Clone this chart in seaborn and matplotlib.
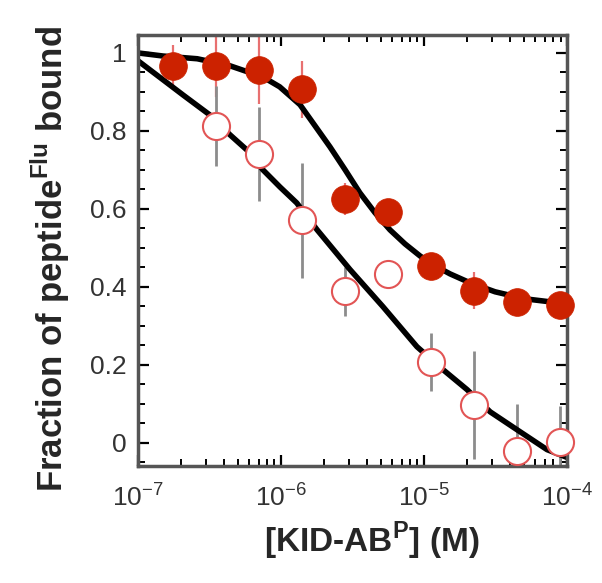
import numpy as np
import pandas as pd
import seaborn as sns
import matplotlib
matplotlib.use('Agg')
from matplotlib import pyplot as plt
from matplotlib import ticker

# Concentration of KID-AB^P (M), two-fold dilution series
conc = [1.75e-7, 3.5e-7, 7e-7, 1.4e-6, 2.8e-6, 5.6e-6, 1.12e-5, 2.24e-5, 4.48e-5, 8.96e-5]

# Filled circles
filled_frac = [0.967, 0.967, 0.955, 0.907, 0.625, 0.592, 0.452, 0.390, 0.360, 0.354]
filled_err = [0.054, 0.08, 0.087, 0.073, 0.04, 0.025, 0.02, 0.047, 0.02, 0.02]

# Open circles (no point at the lowest concentration)
open_conc = [3.5e-7, 7e-7, 1.4e-6, 2.8e-6, 5.6e-6, 1.12e-5, 2.24e-5, 4.48e-5, 8.96e-5]
open_frac = [0.813, 0.741, 0.570, 0.388, 0.433, 0.207, 0.097, -0.022, 0.001]
open_err = [0.103, 0.12, 0.147, 0.062, 0.02, 0.075, 0.138, 0.12, 0.092]

# Fitted curves
fit_filled_x = [1e-7, 1.5e-7, 2.6e-7, 4.4e-7, 7.5e-7, 9.8e-7, 1.36e-6, 1.73e-6,
                2.2e-6, 2.81e-6, 3.56e-6, 4.54e-6, 5.78e-6, 7.36e-6, 9.38e-6,
                1.19e-5, 1.52e-5, 2.1e-5, 3.14e-5, 5.08e-5, 1e-4]
fit_filled_y = [1.0, 0.992, 0.985, 0.967, 0.938, 0.913, 0.867, 0.813,
                0.759, 0.700, 0.641, 0.590, 0.546, 0.510, 0.479,
                0.454, 0.433, 0.410, 0.387, 0.369, 0.356]

fit_open_x = [1e-7, 1.5e-7, 2.07e-7, 3.18e-7, 4.4e-7, 5.78e-7, 7.48e-7, 9.84e-7,
              1.29e-6, 1.79e-6, 3.04e-6, 5.16e-6, 8.93e-6, 1.36e-5, 2e-5,
              2.9e-5, 4.47e-5, 7.24e-5, 1e-4]
fit_open_y = [0.98, 0.931, 0.892, 0.841, 0.790, 0.751, 0.700, 0.656,
              0.615, 0.546, 0.444, 0.349, 0.246, 0.187, 0.136,
              0.079, 0.033, -0.018, -0.038]

sns.set_style('ticks')
plt.rcParams['font.family'] = ['Liberation Sans', 'DejaVu Sans']
plt.rcParams['mathtext.fontset'] = 'custom'
plt.rcParams['mathtext.rm'] = 'Liberation Sans'
plt.rcParams['mathtext.bf'] = 'Liberation Sans:bold'

fig = plt.figure(figsize=(6.02, 5.83), dpi=100)
ax = fig.add_axes([0.229, 0.2007, 0.713, 0.7393])

red = '#cc2200'

# Error bars
ax.errorbar(conc, filled_frac, yerr=filled_err, fmt='none', ecolor='#e87070',
            elinewidth=1.6, capsize=0, zorder=1)
ax.errorbar(open_conc, open_frac, yerr=open_err, fmt='none', ecolor='#8c8c8c',
            elinewidth=2, capsize=0, zorder=1)

# Fit lines
sns.lineplot(x=fit_filled_x, y=fit_filled_y, ax=ax, color='black', lw=4,
             sort=False, estimator=None, zorder=2)
sns.lineplot(x=fit_open_x, y=fit_open_y, ax=ax, color='black', lw=4,
             sort=False, estimator=None, zorder=2)

# Data points
sns.scatterplot(x=conc, y=filled_frac, ax=ax, s=400, color=red,
                edgecolor=red, linewidth=0.5, zorder=3, clip_on=False)
sns.scatterplot(x=open_conc, y=open_frac, ax=ax, s=380, facecolor='white',
                edgecolor='#e25555', linewidth=1.5, zorder=3, clip_on=False)

ax.set_xscale('log')
ax.set_xlim(1e-7, 1e-4)
ax.set_ylim(-0.06, 1.046)

ax.set_yticks([0, 0.2, 0.4, 0.6, 0.8, 1.0])
ax.set_yticklabels(['0', '0.2', '0.4', '0.6', '0.8', '1'])
ax.yaxis.set_minor_locator(ticker.MultipleLocator(0.05))
ax.xaxis.set_major_locator(ticker.LogLocator(base=10, numticks=10))
ax.xaxis.set_minor_locator(ticker.LogLocator(base=10, subs=np.arange(2, 10), numticks=20))

ax.tick_params(which='both', direction='in', top=True, right=True, color='black')
ax.tick_params(which='major', length=8, width=1.6, labelsize=19, labelcolor='#333333', pad=8)
ax.tick_params(which='minor', length=5, width=1.4)
ax.tick_params(axis='x', which='major', labelsize=19, pad=13)

for s in ax.spines.values():
    s.set_linewidth(2.5)
    s.set_color('#555555')

ax.set_xlabel(r'[KID-AB$^{\mathbf{P}}$] (M)', fontsize=24, fontweight='bold')
ax.set_ylabel(r'Fraction of peptide$^{\mathbf{Flu}}$ bound', fontsize=25, fontweight='bold')
ax.xaxis.set_label_coords(0.544, -0.125)
ax.yaxis.set_label_coords(-0.154, 0.48)

plt.savefig('out.png', dpi=100)
